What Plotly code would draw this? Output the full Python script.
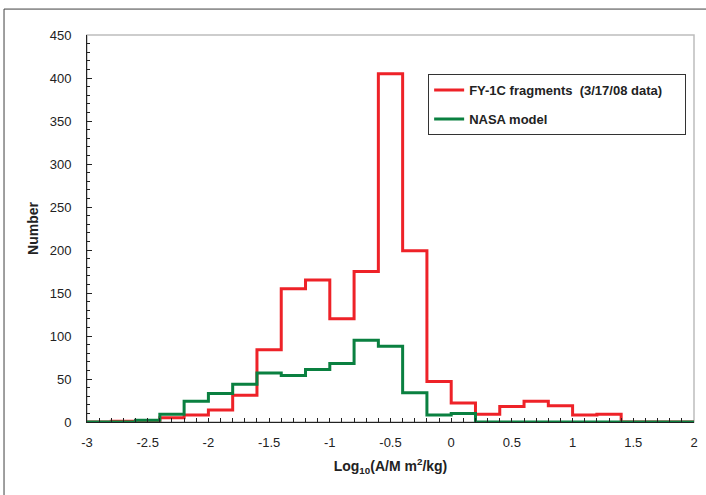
import plotly.graph_objects as go

# Bin edges of log10(A/M) (width 0.2)
bin_edges = [-3.0, -2.8, -2.6, -2.4, -2.2, -2.0, -1.8, -1.6, -1.4, -1.2, -1.0,
             -0.8, -0.6, -0.4, -0.2, 0.0, 0.2, 0.4, 0.6, 0.8, 1.0, 1.2, 1.4,
             1.6, 1.8, 2.0]

# Counts per bin
fy1c_counts = [0, 1, 1, 5, 8, 14, 31, 84, 155, 165, 120, 175, 405, 199, 47,
               22, 9, 18, 24, 19, 8, 9, 0, 0, 0]
nasa_counts = [0, 0, 2, 9, 24, 33, 44, 57, 54, 61, 68, 95, 88, 34, 8,
               10, 0, 0, 0, 0, 0, 0, 0, 0, 0]

x_ticks = [-3, -2.5, -2, -1.5, -1, -0.5, 0, 0.5, 1, 1.5, 2]
x_tick_text = ["-3", "-2.5", "-2", "-1.5", "-1", "-0.5", "0", "0.5", "1", "1.5", "2"]
y_ticks = [0, 50, 100, 150, 200, 250, 300, 350, 400, 450]

RED = "#ee2228"
GREEN = "#0a8040"
PAD = "\u00a0" * 5

fig = go.Figure()
fig.add_trace(go.Scatter(
    x=bin_edges, y=fy1c_counts + [fy1c_counts[-1]],
    mode="lines", line=dict(shape="hv", color=RED, width=3),
    name="<b>FY-1C fragments  (3/17/08 data)</b>" + PAD, legendgroup="a"))
fig.add_trace(go.Scatter(
    x=bin_edges, y=nasa_counts + [nasa_counts[-1]],
    mode="lines", line=dict(shape="hv", color=GREEN, width=3),
    name="<b>NASA model</b>", legendgroup="b"))

FAM = "Liberation Sans, Arial, sans-serif"
tick_font = dict(family=FAM, size=13, color="#222")
title_font = dict(family=FAM, size=14, color="#222")

fig.update_layout(
    width=706, height=495,
    margin=dict(l=87, r=12, t=35, b=73, autoexpand=False),
    paper_bgcolor="white", plot_bgcolor="white",
    font=tick_font,
    showlegend=True,
    legend=dict(
        x=0.562, y=0.899, xanchor="left", yanchor="top",
        bordercolor="#333", borderwidth=1, bgcolor="white",
        font=dict(family=FAM, size=13, color="#222"),
        tracegroupgap=9, traceorder="grouped",
    ),
    xaxis=dict(
        range=[-3, 2], tickvals=x_ticks, ticktext=x_tick_text,
        showgrid=False, zeroline=False, automargin=False,
        showline=True, linecolor="#222", linewidth=1,
        ticks="inside", ticklen=4, tickcolor="#222",
        minor=dict(dtick=0.1, ticks="inside", ticklen=4, tickcolor="#222", showgrid=False),
        tickfont=tick_font, ticklabelstandoff=8,
        title=dict(text="<b>Log<sub>10</sub>(A/M m<sup>2</sup>/kg)</b>", font=title_font, standoff=12),
    ),
    yaxis=dict(
        range=[0, 450], tickvals=y_ticks,
        showgrid=False, zeroline=False, automargin=False,
        showline=True, linecolor="#222", linewidth=1,
        ticks="inside", ticklen=5, tickcolor="#222",
        minor=dict(dtick=10, ticks="inside", ticklen=3, tickcolor="#222", showgrid=False),
        tickfont=tick_font, ticklabelstandoff=12,
        title=dict(text="<b>Number</b>", font=title_font, standoff=7),
    ),
    shapes=[
        dict(type="rect", xref="paper", yref="paper", x0=0, y0=0, x1=1, y1=1,
             line=dict(color="#bdbdbd", width=1.5), layer="below"),
        dict(type="rect", xref="paper", yref="paper", x0=-0.1367, y0=-0.3, x1=1.05, y1=1.067,
             line=dict(color="#404040", width=1), layer="below"),
    ],
)

fig.write_html("out.html", config={"displayModeBar": False},
               post_script="document.body.style.margin='0';document.body.style.padding='0';")
